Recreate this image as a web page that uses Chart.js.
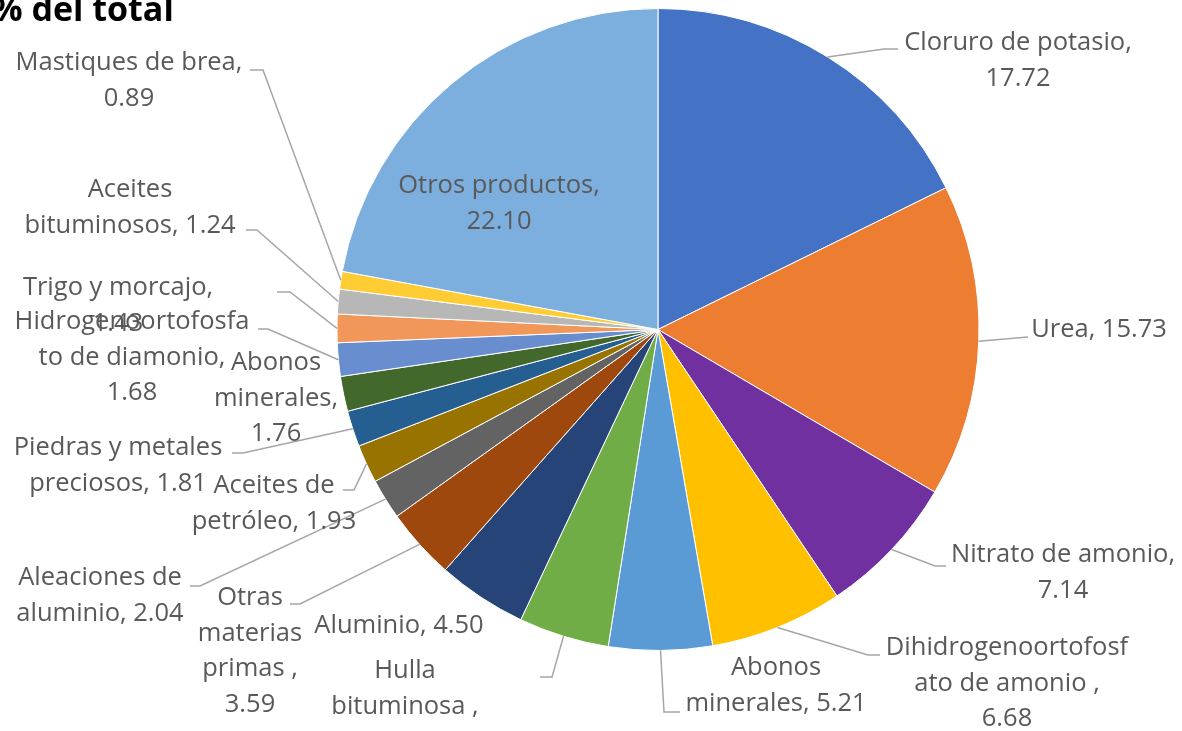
<!DOCTYPE html>
<html>
<head>
<meta charset="utf-8">
<script src="https://cdn.jsdelivr.net/npm/chart.js@4.4.1/dist/chart.umd.min.js"></script>
<style>
  html, body { margin: 0; padding: 0; background: #ffffff; }
  #wrap { position: relative; width: 1182px; height: 731px; overflow: hidden; }
  canvas { display: block; }
</style>
</head>
<body>
<div id="wrap"><canvas id="c" width="1182" height="731"></canvas></div>
<script>
// ---- Data ----
const categories = [
  "Cloruro de potasio", "Urea", "Nitrato de amonio", "Dihidrogenoortofosfato de amonio ",
  "Abonos minerales", "Hulla bituminosa ", "Aluminio", "Otras materias primas ",
  "Aleaciones de aluminio", "Aceites de petróleo", "Piedras y metales preciosos",
  "Abonos minerales", "Hidrogenoortofosfato de diamonio", "Trigo y morcajo",
  "Aceites bituminosos", "Mastiques de brea", "Otros productos"
];
const values = [17.72, 15.73, 7.14, 6.68, 5.21, 4.55, 4.50, 3.59, 2.04, 1.93, 1.81, 1.76, 1.68, 1.43, 1.24, 0.89, 22.10];
const colors = [
  "#4472C4", "#ED7D31", "#7030A0", "#FFC000", "#5B9BD5", "#70AD47", "#264478", "#9E480E",
  "#636363", "#997300", "#255E91", "#43682B", "#698ED0", "#F1975A", "#B7B7B7", "#FFCD33", "#7CAFDD"
];
const titleText = "% del total";

// ---- Label layout (line wrapping as in the original; {v} = value) ----
const labelLines = [
  ["Cloruro de potasio,", "{v}"],
  ["Urea, {v}"],
  ["Nitrato de amonio,", "{v}"],
  ["Dihidrogenoortofosf", "ato de amonio ,", "{v}"],
  ["Abonos", "minerales, {v}"],
  ["Hulla", "bituminosa ,", "{v}"],
  ["Aluminio, {v}"],
  ["Otras", "materias", "primas ,", "{v}"],
  ["Aleaciones de", "aluminio, {v}"],
  ["Aceites de", "petróleo, {v}"],
  ["Piedras y metales", "preciosos, {v}"],
  ["Abonos", "minerales,", "{v}"],
  ["Hidrogenoortofosfa", "to de diamonio,", "{v}"],
  ["Trigo y morcajo,", "{v}"],
  ["Aceites", "bituminosos, {v}"],
  ["Mastiques de brea,", "{v}"],
  ["Otros productos,", "{v}"]
];
// [center x, first line y]
const labelPos = [
  [1018, 43], [1099, 330], [1063, 555], [1007, 648], [776, 668], [405, 671], [399, 626],
  [250, 598], [100, 578], [274, 486], [118, 448], [276, 363], [132, 322], [118, 288],
  [130, 190], [129, 63], [499, 186]
];
// leader: [elbow, anchor] or null
const leaders = [
  [[884, 49], [898, 49]],
  [[1028, 337], [1028, 337]],
  [[935, 566], [946, 566]],
  [[868, 655], [880, 655]],
  [[664, 712], [680, 712]],
  [[552, 677], [540, 677]],
  null,
  [[300, 604], [290, 604]],
  [[200, 586], [190, 586]],
  [[354, 490], [343, 490]],
  [[243, 453], [232, 453]],
  null,
  [[268, 329], [258, 329]],
  [[290, 292], [277, 292]],
  [[257, 230], [246, 230]],
  [[263, 70], [250, 70]],
  null
];

const FONT = '25.5px "Open Sans", "Noto Sans", sans-serif';
const LINE_H = 35.5;

const labelPlugin = {
  id: 'labels',
  afterDatasetsDraw(chart) {
    const ctx = chart.ctx;
    const meta = chart.getDatasetMeta(0);
    ctx.save();
    // leader lines
    ctx.strokeStyle = '#A6A6A6';
    ctx.lineWidth = 1.5;
    meta.data.forEach((arc, i) => {
      const L = leaders[i];
      if (!L) return;
      const mid = (arc.startAngle + arc.endAngle) / 2;
      const px = arc.x + Math.cos(mid) * arc.outerRadius;
      const py = arc.y + Math.sin(mid) * arc.outerRadius;
      ctx.beginPath();
      ctx.moveTo(px, py);
      ctx.lineTo(L[0][0], L[0][1]);
      ctx.lineTo(L[1][0], L[1][1]);
      ctx.stroke();
    });
    // texts
    ctx.fillStyle = '#595959';
    ctx.font = FONT;
    ctx.textAlign = 'center';
    ctx.textBaseline = 'middle';
    meta.data.forEach((arc, i) => {
      const v = chart.data.datasets[0].data[i].toFixed(2);
      const lines = labelLines[i];
      const [cx, y0] = labelPos[i];
      lines.forEach((ln, k) => {
        ctx.fillText(ln.replace('{v}', v), cx, y0 + k * LINE_H);
      });
    });
    // title
    ctx.fillStyle = '#000000';
    ctx.font = 'bold 34px "Open Sans", "Noto Sans", sans-serif';
    ctx.textAlign = 'left';
    ctx.textBaseline = 'alphabetic';
    ctx.fillText(titleText, -8, 21);
    ctx.restore();
  }
};

new Chart(document.getElementById('c'), {
  type: 'pie',
  data: {
    labels: categories,
    datasets: [{
      data: values,
      backgroundColor: colors,
      borderColor: '#ffffff',
      borderWidth: 1
    }]
  },
  options: {
    responsive: false,
    animation: false,
    layout: { padding: { top: 8, bottom: 80, left: 134, right: 0 } },
    plugins: {
      legend: { display: false },
      tooltip: { enabled: false },
      title: { display: false }
    }
  },
  plugins: [labelPlugin]
});
</script>
</body>
</html>
